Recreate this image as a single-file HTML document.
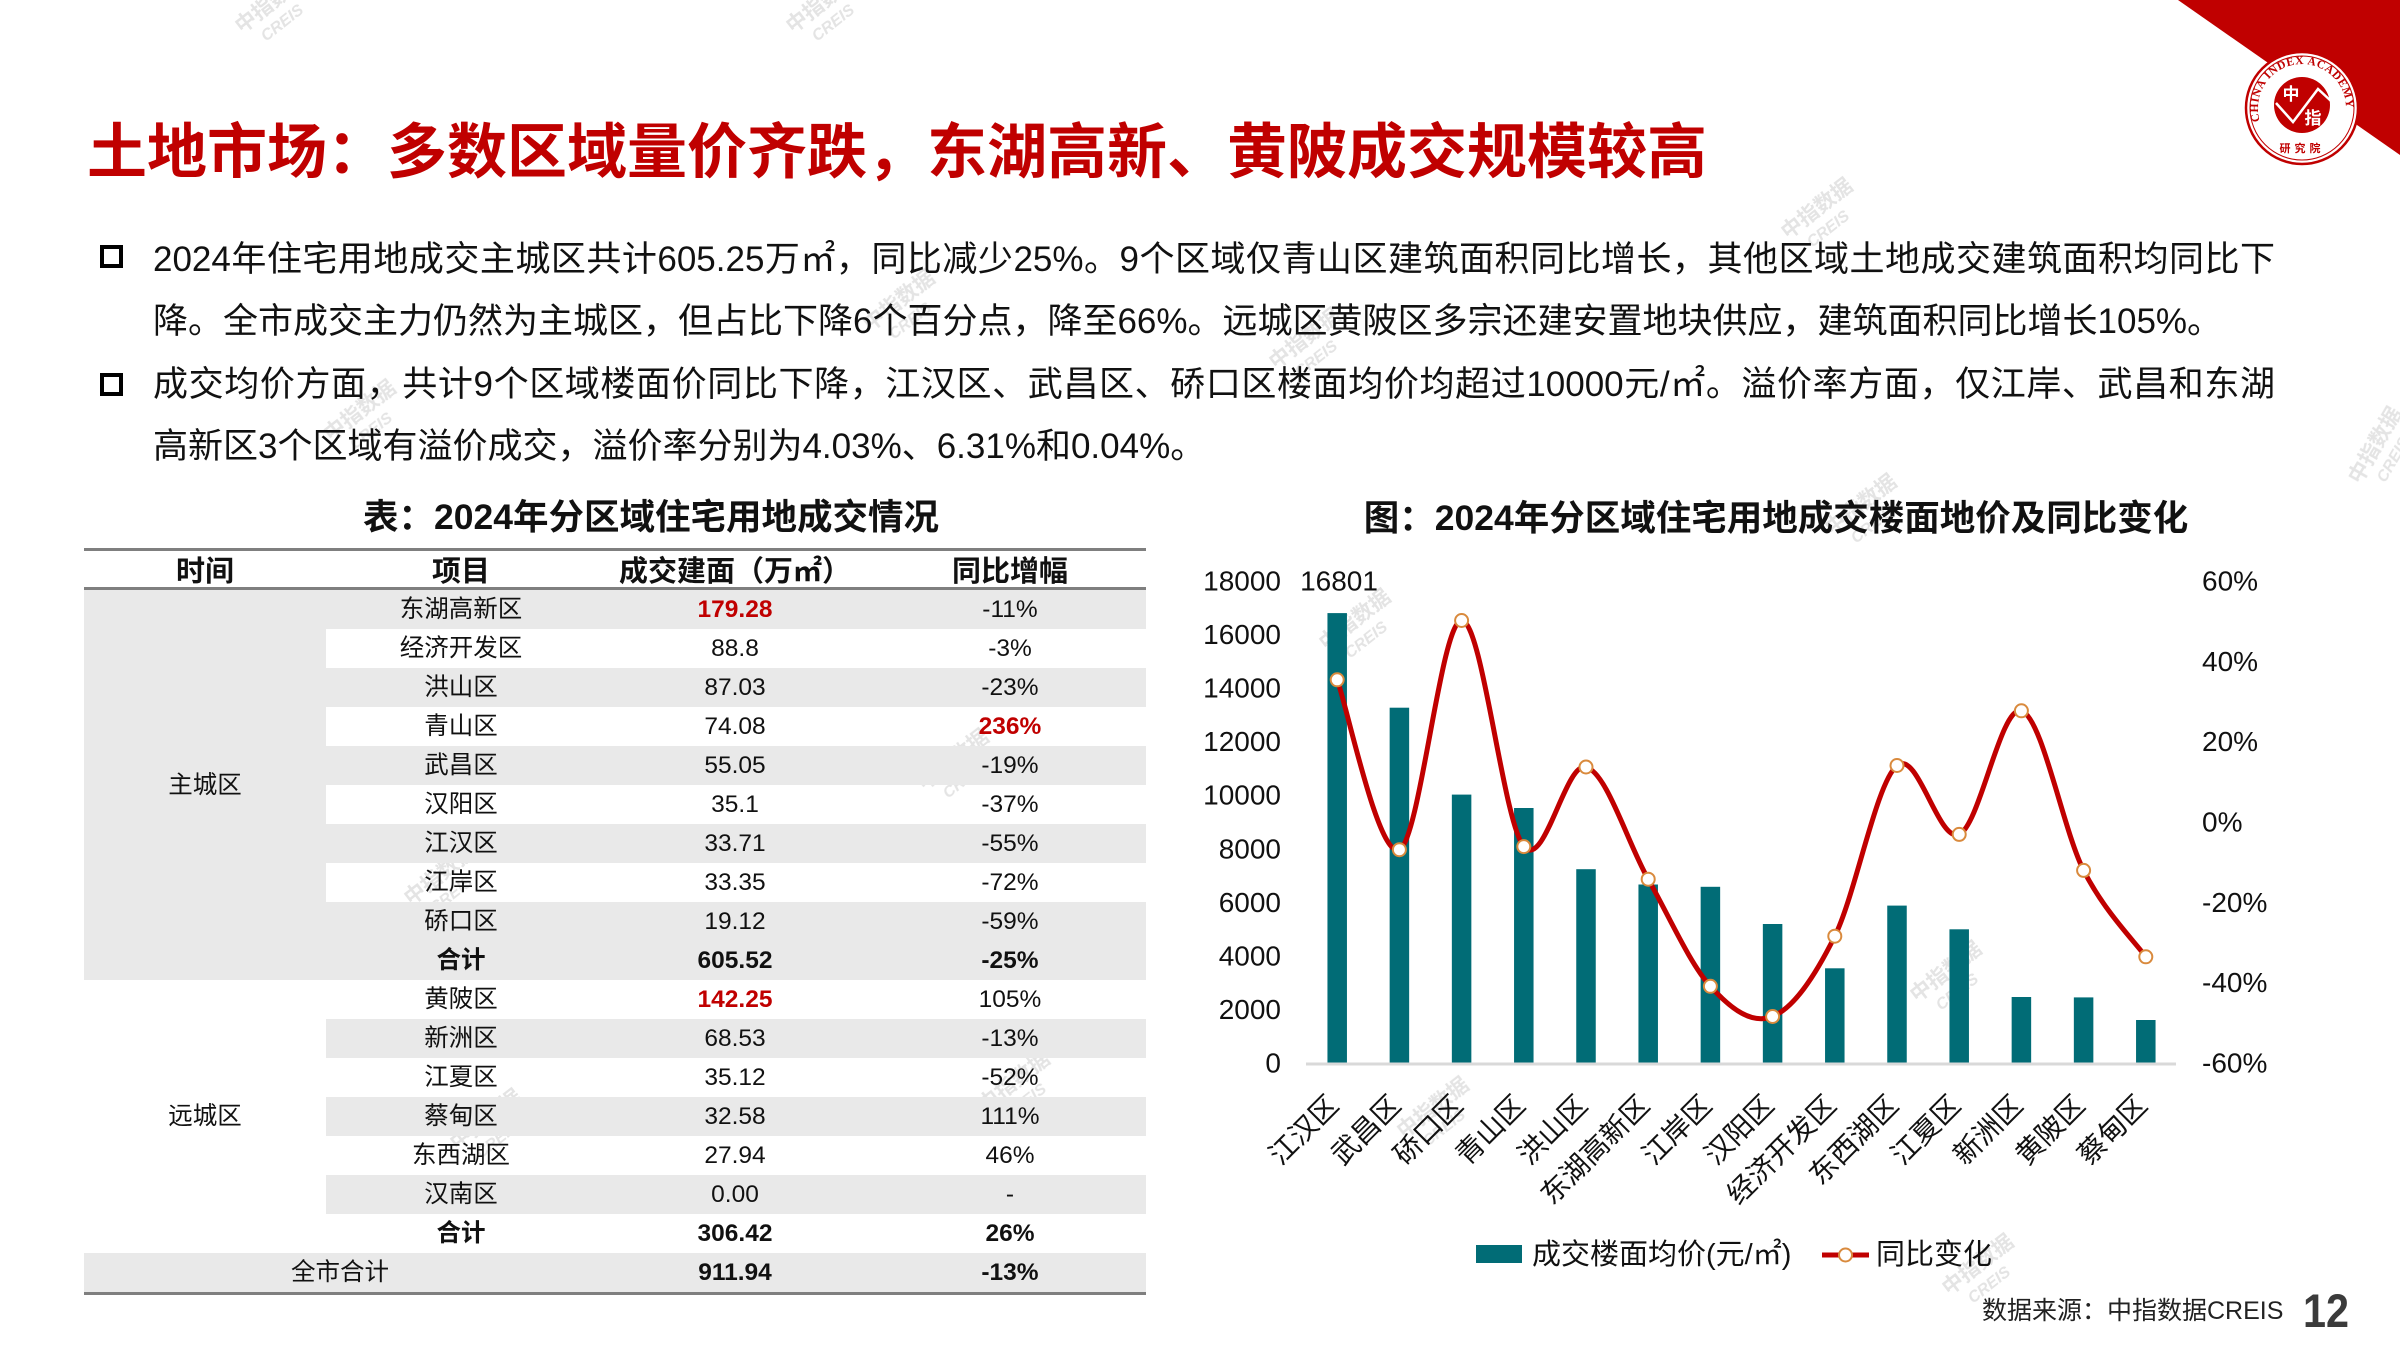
<!DOCTYPE html>
<html lang="zh-CN">
<head>
<meta charset="utf-8">
<style>
  html,body{margin:0;padding:0;background:#fff;}
  body{width:2400px;height:1350px;position:relative;overflow:hidden;
       font-family:"Liberation Sans","Noto Sans CJK SC",sans-serif;color:#111;}
  .abs{position:absolute;}
  .title{left:87px;top:123px;font-size:60px;line-height:60px;font-weight:bold;color:#C00000;white-space:nowrap;}
  .para{left:153px;width:2122px;font-size:35px;height:62.5px;line-height:62.5px;color:#111;}
  .just{text-align:justify;text-align-last:justify;}
  .box{left:100px;width:15px;height:15px;border:4.5px solid #000;}
  .g{position:absolute;background:#e9e9e9;}
  .hl{position:absolute;left:84px;width:1062px;height:3px;background:#7f7f7f;}
  .c{position:absolute;height:39px;line-height:39px;text-align:center;font-size:24.5px;white-space:nowrap;color:#111;}
  .c2{left:326px;width:270px;}
  .c3{left:596px;width:278px;}
  .c4{left:874px;width:272px;}
  .b{font-weight:bold;}
  .r{color:#C00000;font-weight:bold;}
  .h{position:absolute;top:553px;height:38px;line-height:38px;font-size:29px;font-weight:bold;text-align:center;white-space:nowrap;color:#111;}
</style>
</head>
<body>

<svg class="abs" style="left:0;top:0" width="2400" height="1350" viewBox="0 0 2400 1350" xmlns="http://www.w3.org/2000/svg" font-family="Liberation Sans, Noto Sans CJK SC, sans-serif">
  <!-- watermarks -->
  <g fill="#c9c9c9" opacity="0.5" font-weight="bold">
    <g transform="translate(242,34) rotate(-38)"><text font-size="21">中指数据</text><text x="14" y="21" font-size="16" font-style="italic">CREIS</text></g>
    <g transform="translate(793,34) rotate(-38)"><text font-size="21">中指数据</text><text x="14" y="21" font-size="16" font-style="italic">CREIS</text></g>
    <g transform="translate(1788,240) rotate(-38)"><text font-size="21">中指数据</text><text x="14" y="21" font-size="16" font-style="italic">CREIS</text></g>
    <g transform="translate(870,332) rotate(-38)"><text font-size="21">中指数据</text><text x="14" y="21" font-size="16" font-style="italic">CREIS</text></g>
    <g transform="translate(1276,370) rotate(-38)"><text font-size="21">中指数据</text><text x="14" y="21" font-size="16" font-style="italic">CREIS</text></g>
    <g transform="translate(331,442) rotate(-38)"><text font-size="21">中指数据</text><text x="14" y="21" font-size="16" font-style="italic">CREIS</text></g>
    <g transform="translate(2360,485) rotate(-60)"><text font-size="21">中指数据</text><text x="14" y="21" font-size="16" font-style="italic">CREIS</text></g>
    <g transform="translate(1832,536) rotate(-38)"><text font-size="21">中指数据</text><text x="14" y="21" font-size="16" font-style="italic">CREIS</text></g>
    <g transform="translate(1326,651) rotate(-38)"><text font-size="21">中指数据</text><text x="14" y="21" font-size="16" font-style="italic">CREIS</text></g>
    <g transform="translate(924,791) rotate(-38)"><text font-size="21">中指数据</text><text x="14" y="21" font-size="16" font-style="italic">CREIS</text></g>
    <g transform="translate(411,906) rotate(-38)"><text font-size="21">中指数据</text><text x="14" y="21" font-size="16" font-style="italic">CREIS</text></g>
    <g transform="translate(1917,1003) rotate(-38)"><text font-size="21">中指数据</text><text x="14" y="21" font-size="16" font-style="italic">CREIS</text></g>
    <g transform="translate(985,1113) rotate(-38)"><text font-size="21">中指数据</text><text x="14" y="21" font-size="16" font-style="italic">CREIS</text></g>
    <g transform="translate(457,1151) rotate(-38)"><text font-size="21">中指数据</text><text x="14" y="21" font-size="16" font-style="italic">CREIS</text></g>
    <g transform="translate(1404,1139) rotate(-38)"><text font-size="21">中指数据</text><text x="14" y="21" font-size="16" font-style="italic">CREIS</text></g>
    <g transform="translate(1949,1296) rotate(-38)"><text font-size="21">中指数据</text><text x="14" y="21" font-size="16" font-style="italic">CREIS</text></g>
  </g>

  <!-- red corner -->
  <polygon points="2178,0 2400,0 2400,155" fill="#C00000"/>
  <!-- logo -->
  <circle cx="2302" cy="108" r="56" fill="#fff" stroke="#C00000" stroke-width="2.5"/>
  <circle cx="2302" cy="108" r="52" fill="none" stroke="#C00000" stroke-width="1"/>
  <defs>
    <path id="arcTop" d="M2260.6,123 A44,44 0 1 1 2343.4,123"/>
  </defs>
  <text font-family="Liberation Serif, serif" font-size="11.5" font-weight="bold" fill="#C00000" letter-spacing="0.6">
    <textPath href="#arcTop" startOffset="2">CHINA INDEX ACADEMY</textPath>
  </text>
  <circle cx="2302" cy="105" r="28" fill="#C00000"/>
  <polyline points="2276,103 2293,122 2318,89 2331,101" fill="none" stroke="#fff" stroke-width="2.5"/>
  <text x="2291" y="100" font-size="17" font-weight="bold" fill="#fff" text-anchor="middle">中</text>
  <text x="2313" y="124" font-size="17" font-weight="bold" fill="#fff" text-anchor="middle">指</text>
  <text x="2302" y="152" font-size="11" font-weight="bold" fill="#C00000" text-anchor="middle" letter-spacing="4">研究院</text>

  <!-- titles -->
  <text x="651" y="517" font-size="35.5" font-weight="bold" fill="#111" text-anchor="middle" dominant-baseline="central">表：2024年分区域住宅用地成交情况</text>
  <text x="1776" y="518" font-size="35.5" font-weight="bold" fill="#111" text-anchor="middle" dominant-baseline="central">图：2024年分区域住宅用地成交楼面地价及同比变化</text>

  <!-- left axis -->
  <g font-size="28" fill="#111" text-anchor="end" dominant-baseline="central">
    <text x="1281" y="1063">0</text>
    <text x="1281" y="1009.4">2000</text>
    <text x="1281" y="955.9">4000</text>
    <text x="1281" y="902.3">6000</text>
    <text x="1281" y="848.8">8000</text>
    <text x="1281" y="795.2">10000</text>
    <text x="1281" y="741.6">12000</text>
    <text x="1281" y="688.1">14000</text>
    <text x="1281" y="634.5">16000</text>
    <text x="1281" y="581">18000</text>
  </g>
  <text x="1339" y="581" font-size="28" fill="#111" text-anchor="middle" dominant-baseline="central">16801</text>
  <!-- right axis -->
  <g font-size="28" fill="#111" dominant-baseline="central">
    <text x="2202" y="1063">-60%</text>
    <text x="2202" y="982.7">-40%</text>
    <text x="2202" y="902.3">-20%</text>
    <text x="2202" y="822">0%</text>
    <text x="2202" y="741.7">20%</text>
    <text x="2202" y="661.3">40%</text>
    <text x="2202" y="581">60%</text>
  </g>

  <!-- bars -->
  <g fill="#016c76">
    <rect x="1327.45" y="613.1" width="19.5" height="449.9"/>
    <rect x="1389.65" y="707.7" width="19.5" height="355.3"/>
    <rect x="1451.85" y="794.6" width="19.5" height="268.4"/>
    <rect x="1514.05" y="808.0" width="19.5" height="255.0"/>
    <rect x="1576.25" y="869.2" width="19.5" height="193.8"/>
    <rect x="1638.45" y="884.5" width="19.5" height="178.5"/>
    <rect x="1700.65" y="886.8" width="19.5" height="176.2"/>
    <rect x="1762.85" y="924.0" width="19.5" height="139.0"/>
    <rect x="1825.05" y="968.3" width="19.5" height="94.7"/>
    <rect x="1887.25" y="905.6" width="19.5" height="157.4"/>
    <rect x="1949.45" y="929.3" width="19.5" height="133.7"/>
    <rect x="2011.65" y="997.0" width="19.5" height="66.0"/>
    <rect x="2073.85" y="997.4" width="19.5" height="65.6"/>
    <rect x="2136.05" y="1020.0" width="19.5" height="43.0"/>
  </g>
  <line x1="1306" y1="1064" x2="2176" y2="1064" stroke="#d9d9d9" stroke-width="3"/>

  <!-- line -->
  <path d="M1337.2,679.8 C1347.57,708.12 1378.67,859.58 1399.4,849.7 C1420.13,839.82 1440.87,621.02 1461.6,620.5 C1482.33,619.98 1503.07,822.18 1523.8,846.6 C1544.53,871.02 1565.27,761.57 1586,767 C1606.73,772.43 1627.47,842.65 1648.2,879.2 C1668.93,915.75 1689.67,963.42 1710.4,986.3 C1731.13,1009.18 1751.87,1024.85 1772.6,1016.5 C1793.33,1008.15 1814.07,978.03 1834.8,936.2 C1855.53,894.37 1876.27,782.47 1897,765.5 C1917.73,748.53 1938.47,843.52 1959.2,834.4 C1979.93,825.28 2000.67,704.8 2021.4,710.8 C2042.13,716.8 2062.87,829.4 2083.6,870.4 C2104.33,911.4 2135.43,942.4 2145.8,956.8" fill="none" stroke="#C00000" stroke-width="5" stroke-linejoin="round"/>
  <g fill="#fff" stroke="#d98a3d" stroke-width="2">
    <circle cx="1337.2" cy="679.8" r="6.5"/>
    <circle cx="1399.4" cy="849.7" r="6.5"/>
    <circle cx="1461.6" cy="620.5" r="6.5"/>
    <circle cx="1523.8" cy="846.6" r="6.5"/>
    <circle cx="1586" cy="767" r="6.5"/>
    <circle cx="1648.2" cy="879.2" r="6.5"/>
    <circle cx="1710.4" cy="986.3" r="6.5"/>
    <circle cx="1772.6" cy="1016.5" r="6.5"/>
    <circle cx="1834.8" cy="936.2" r="6.5"/>
    <circle cx="1897" cy="765.5" r="6.5"/>
    <circle cx="1959.2" cy="834.4" r="6.5"/>
    <circle cx="2021.4" cy="710.8" r="6.5"/>
    <circle cx="2083.6" cy="870.4" r="6.5"/>
    <circle cx="2145.8" cy="956.8" r="6.5"/>
  </g>

  <!-- x labels -->
  <g font-size="28" fill="#111" text-anchor="end">
    <text transform="translate(1340.2,1107) rotate(-45)">江汉区</text>
    <text transform="translate(1402.4,1107) rotate(-45)">武昌区</text>
    <text transform="translate(1464.6,1107) rotate(-45)">硚口区</text>
    <text transform="translate(1526.8,1107) rotate(-45)">青山区</text>
    <text transform="translate(1589.0,1107) rotate(-45)">洪山区</text>
    <text transform="translate(1651.2,1107) rotate(-45)">东湖高新区</text>
    <text transform="translate(1713.4,1107) rotate(-45)">江岸区</text>
    <text transform="translate(1775.6,1107) rotate(-45)">汉阳区</text>
    <text transform="translate(1837.8,1107) rotate(-45)">经济开发区</text>
    <text transform="translate(1900.0,1107) rotate(-45)">东西湖区</text>
    <text transform="translate(1962.2,1107) rotate(-45)">江夏区</text>
    <text transform="translate(2024.4,1107) rotate(-45)">新洲区</text>
    <text transform="translate(2086.6,1107) rotate(-45)">黄陂区</text>
    <text transform="translate(2148.8,1107) rotate(-45)">蔡甸区</text>
  </g>

  <!-- legend -->
  <rect x="1476" y="1245" width="46" height="18" fill="#016c76"/>
  <text x="1532" y="1255" font-size="29" fill="#111" dominant-baseline="central">成交楼面均价(元/㎡)</text>
  <line x1="1822" y1="1255" x2="1869" y2="1255" stroke="#C00000" stroke-width="5"/>
  <circle cx="1845.5" cy="1255" r="6.5" fill="#fff" stroke="#d98a3d" stroke-width="2"/>
  <text x="1876" y="1255" font-size="29" fill="#111" dominant-baseline="central">同比变化</text>

  <!-- footer -->
  <text x="1982" y="1311" font-size="25" fill="#222" dominant-baseline="central">数据来源：中指数据CREIS</text>
  <text transform="translate(2303,1327) scale(0.88,1)" font-size="47" font-weight="bold" fill="#3b3b3b">12</text>
</svg>

<!-- main title -->
<div class="abs title">土地市场：多数区域量价齐跌，东湖高新、黄陂成交规模较高</div>

<!-- bullets -->
<div class="abs box" style="top:245px;"></div>
<div class="abs box" style="top:373px;"></div>
<div class="abs para just" style="top:228.5px;">2024年住宅用地成交主城区共计605.25万㎡，同比减少25%。9个区域仅青山区建筑面积同比增长，其他区域土地成交建筑面积均同比下</div>
<div class="abs para" style="top:291px;">降。全市成交主力仍然为主城区，但占比下降6个百分点，降至66%。远城区黄陂区多宗还建安置地块供应，建筑面积同比增长105%。</div>
<div class="abs para just" style="top:353.5px;">成交均价方面，共计9个区域楼面价同比下降，江汉区、武昌区、硚口区楼面均价均超过10000元/㎡。溢价率方面，仅江岸、武昌和东湖</div>
<div class="abs para" style="top:416px;">高新区3个区域有溢价成交，溢价率分别为4.03%、6.31%和0.04%。</div>

<!-- table backgrounds -->
<div class="g" style="left:84px;top:590px;width:242px;height:390px;"></div>
<div class="g" style="left:326px;top:590px;width:820px;height:39px;"></div>
<div class="g" style="left:326px;top:668px;width:820px;height:39px;"></div>
<div class="g" style="left:326px;top:746px;width:820px;height:39px;"></div>
<div class="g" style="left:326px;top:824px;width:820px;height:39px;"></div>
<div class="g" style="left:326px;top:902px;width:820px;height:78px;"></div>
<div class="g" style="left:326px;top:1019px;width:820px;height:39px;"></div>
<div class="g" style="left:326px;top:1097px;width:820px;height:39px;"></div>
<div class="g" style="left:326px;top:1175px;width:820px;height:39px;"></div>
<div class="g" style="left:84px;top:1253px;width:1062px;height:39px;"></div>

<!-- table lines -->
<div class="hl" style="top:548px;"></div>
<div class="hl" style="top:587px;"></div>
<div class="hl" style="top:1292px;"></div>

<!-- header -->
<div class="h" style="left:84px;width:242px;">时间</div>
<div class="h" style="left:326px;width:270px;">项目</div>
<div class="h" style="left:596px;width:278px;">成交建面（万㎡）</div>
<div class="h" style="left:874px;width:272px;">同比增幅</div>

<!-- group labels -->
<div class="c" style="left:84px;width:242px;top:766px;">主城区</div>
<div class="c" style="left:84px;width:242px;top:1097px;">远城区</div>

<!-- rows -->
<div class="c c2" style="top:590px;">东湖高新区</div><div class="c c3 r" style="top:590px;">179.28</div><div class="c c4" style="top:590px;">-11%</div>
<div class="c c2" style="top:629px;">经济开发区</div><div class="c c3" style="top:629px;">88.8</div><div class="c c4" style="top:629px;">-3%</div>
<div class="c c2" style="top:668px;">洪山区</div><div class="c c3" style="top:668px;">87.03</div><div class="c c4" style="top:668px;">-23%</div>
<div class="c c2" style="top:707px;">青山区</div><div class="c c3" style="top:707px;">74.08</div><div class="c c4 r" style="top:707px;">236%</div>
<div class="c c2" style="top:746px;">武昌区</div><div class="c c3" style="top:746px;">55.05</div><div class="c c4" style="top:746px;">-19%</div>
<div class="c c2" style="top:785px;">汉阳区</div><div class="c c3" style="top:785px;">35.1</div><div class="c c4" style="top:785px;">-37%</div>
<div class="c c2" style="top:824px;">江汉区</div><div class="c c3" style="top:824px;">33.71</div><div class="c c4" style="top:824px;">-55%</div>
<div class="c c2" style="top:863px;">江岸区</div><div class="c c3" style="top:863px;">33.35</div><div class="c c4" style="top:863px;">-72%</div>
<div class="c c2" style="top:902px;">硚口区</div><div class="c c3" style="top:902px;">19.12</div><div class="c c4" style="top:902px;">-59%</div>
<div class="c c2 b" style="top:941px;">合计</div><div class="c c3 b" style="top:941px;">605.52</div><div class="c c4 b" style="top:941px;">-25%</div>
<div class="c c2" style="top:980px;">黄陂区</div><div class="c c3 r" style="top:980px;">142.25</div><div class="c c4" style="top:980px;">105%</div>
<div class="c c2" style="top:1019px;">新洲区</div><div class="c c3" style="top:1019px;">68.53</div><div class="c c4" style="top:1019px;">-13%</div>
<div class="c c2" style="top:1058px;">江夏区</div><div class="c c3" style="top:1058px;">35.12</div><div class="c c4" style="top:1058px;">-52%</div>
<div class="c c2" style="top:1097px;">蔡甸区</div><div class="c c3" style="top:1097px;">32.58</div><div class="c c4" style="top:1097px;">111%</div>
<div class="c c2" style="top:1136px;">东西湖区</div><div class="c c3" style="top:1136px;">27.94</div><div class="c c4" style="top:1136px;">46%</div>
<div class="c c2" style="top:1175px;">汉南区</div><div class="c c3" style="top:1175px;">0.00</div><div class="c c4" style="top:1175px;">-</div>
<div class="c c2 b" style="top:1214px;">合计</div><div class="c c3 b" style="top:1214px;">306.42</div><div class="c c4 b" style="top:1214px;">26%</div>
<div class="c" style="left:84px;width:512px;top:1253px;">全市合计</div><div class="c c3 b" style="top:1253px;">911.94</div><div class="c c4 b" style="top:1253px;">-13%</div>

</body>
</html>
